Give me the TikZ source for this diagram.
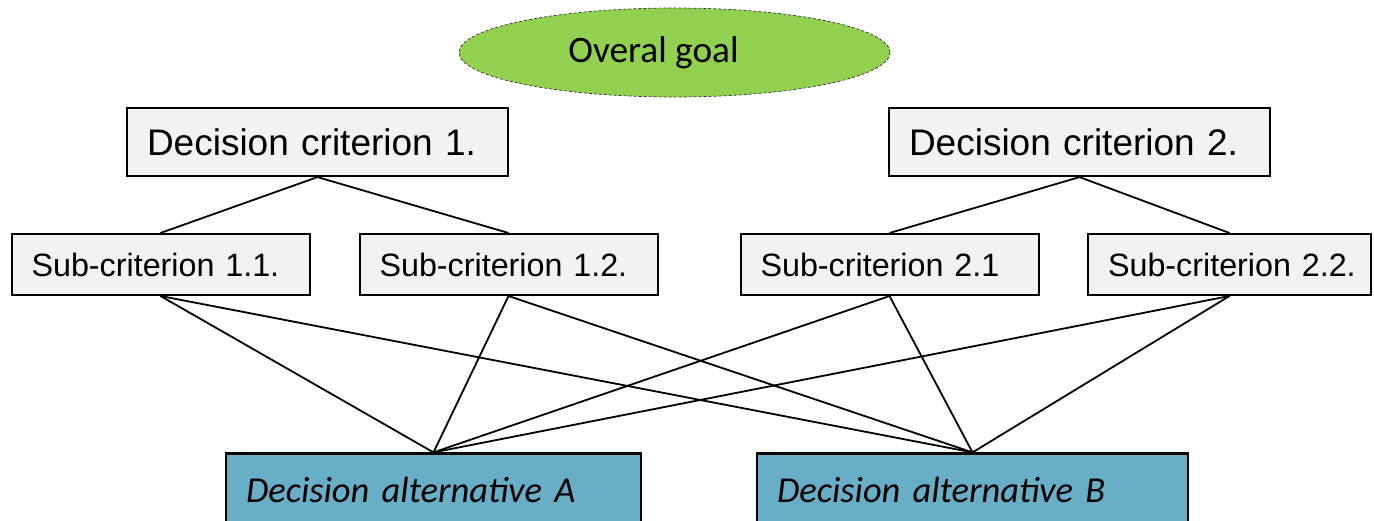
\documentclass[tikz,border=0pt]{standalone}
\usepackage{fontspec}
\usetikzlibrary{shapes.geometric}
\newfontfamily\arialfont{Liberation Sans}
\newfontfamily\calibrifont{Carlito}
\definecolor{goalgreen}{HTML}{92D050}
\definecolor{boxgray}{HTML}{F2F2F2}
\definecolor{altblue}{HTML}{68AEC7}
\tikzset{
  goal/.style={ellipse, draw=black!80, densely dashed, line width=0.7pt, fill=goalgreen,
    minimum width=431pt, minimum height=89pt, inner sep=0pt,
    font=\calibrifont\fontsize{37.3}{40}\selectfont},
  % boxes with left-aligned one-line labels, 20pt padding on each side
  padded/.style={rectangle, inner xsep=20pt, inner ysep=0pt, align=left,
    text width=#1-40pt},
  critbox/.style={padded=381pt, draw=black, line width=2.2pt, fill=boxgray,
    minimum height=68pt, font=\arialfont\fontsize{37}{40}\selectfont},
  subbox/.style={padded=#1, draw=black, line width=2pt, fill=boxgray,
    minimum height=61pt, font=\arialfont\fontsize{32.3}{36}\selectfont},
  altbox/.style={padded=#1, draw=black, line width=2.2pt, fill=altblue,
    minimum height=72pt, font=\calibrifont\itshape\fontsize{36.5}{40}\selectfont},
  link/.style={draw=black, line width=1.8pt},
}
\begin{document}
\begin{tikzpicture}[x=1pt, y=-1pt]
  \useasboundingbox (0,0) rectangle (1374,521);
  \begin{scope}
  \clip (0,0) rectangle (1374,521);

  % top of the hierarchy
  \node[goal] (goal) at (674.5,52.5) {Overal goal\hspace*{42pt}};

  % main criteria
  \node[critbox] (c1) at (317.5,142) {\mbox{Decision criterion 1.}};
  \node[critbox] (c2) at (1079.5,142) {\mbox{Decision criterion 2.}};

  % sub-criteria
  \node[subbox=298pt] (s11) at (160.5,264.5) {\mbox{Sub-criterion 1.1.}};
  \node[subbox=298pt] (s12) at (508.5,264.5) {\mbox{Sub-criterion 1.2.}};
  \node[subbox=298pt] (s21) at (889.5,264.5) {\mbox{Sub-criterion 2.1}};
  \node[subbox=283pt] (s22) at (1229.5,264.5) {\mbox{Sub-criterion 2.2.}};

  % alternatives
  \node[altbox=415pt] (altA) at (433.5,489.5) {\mbox{Decision alternative A}};
  \node[altbox=431pt] (altB) at (972.5,489.5) {\mbox{Decision alternative B}};

  % criteria to sub-criteria
  \draw[link] (c1.south) -- (s11.north);
  \draw[link] (c1.south) -- (s12.north);
  \draw[link] (c2.south) -- (s21.north);
  \draw[link] (c2.south) -- (s22.north);

  % sub-criteria to alternatives
  \foreach \s in {s11,s12,s21,s22} {
    \draw[link] (\s.south) -- (altA.north);
    \draw[link] (\s.south) -- (altB.north);
  }
  \end{scope}
\end{tikzpicture}
\end{document}
